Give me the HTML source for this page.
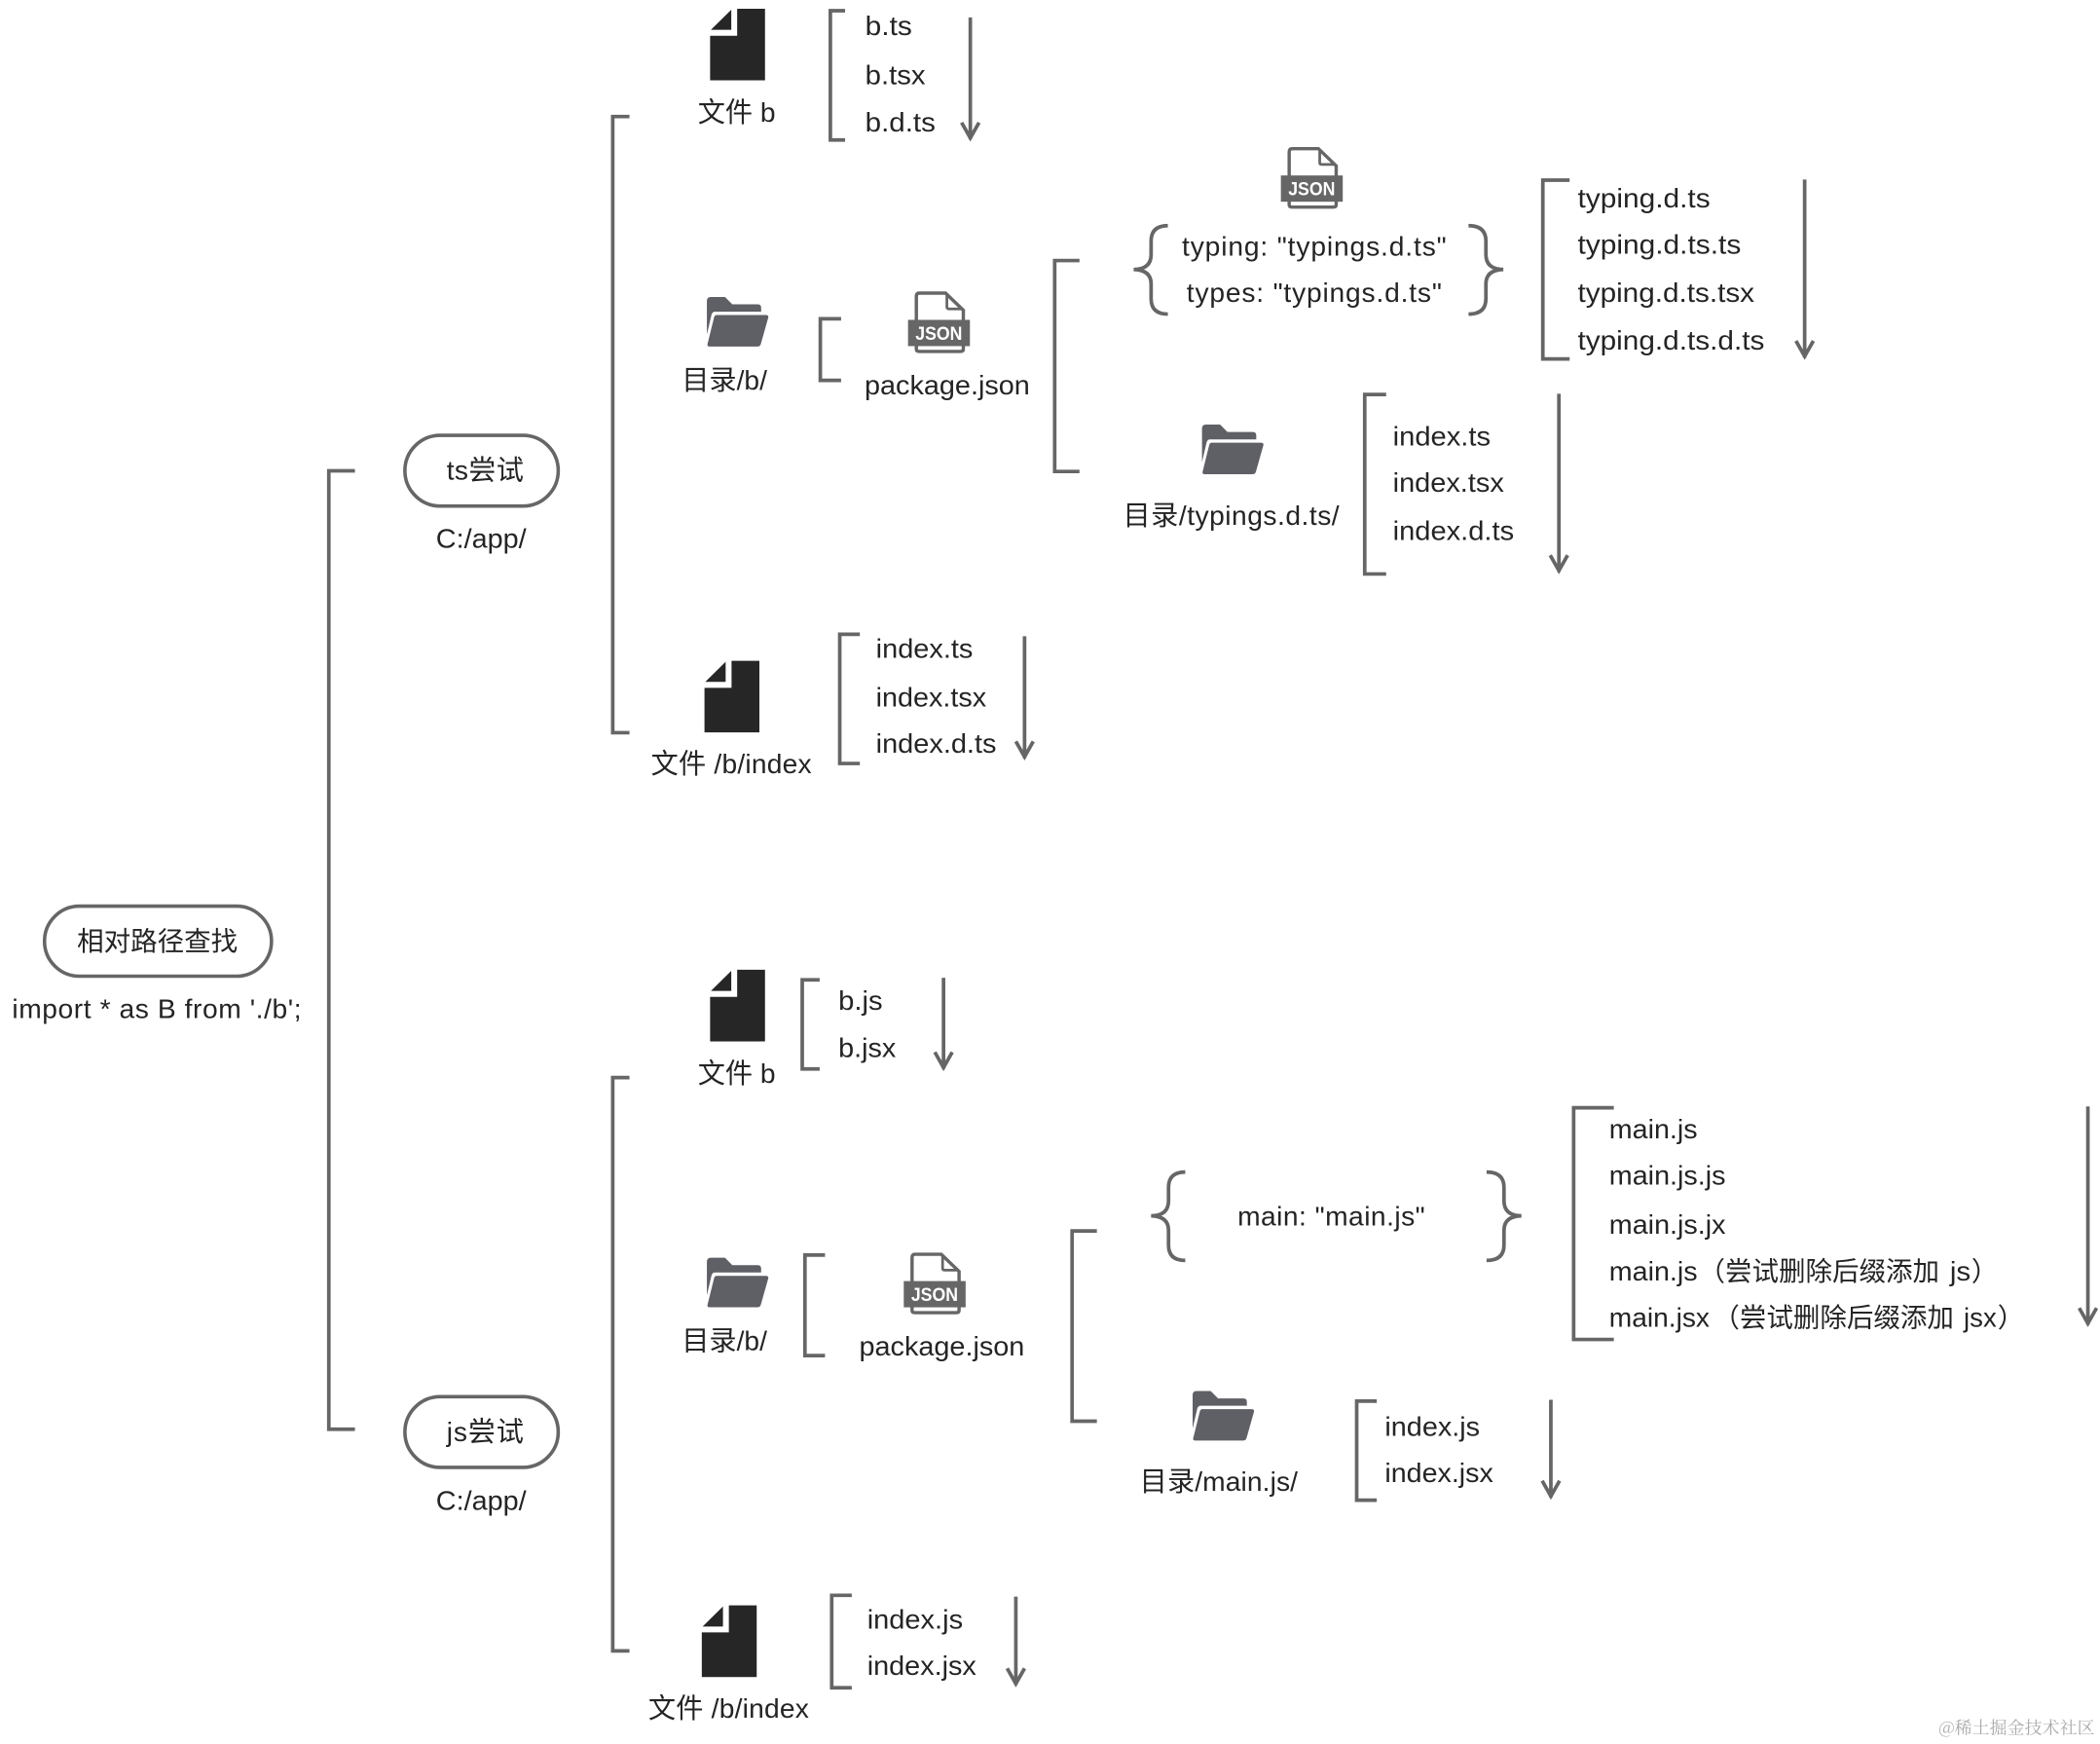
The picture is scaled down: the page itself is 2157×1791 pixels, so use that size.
<!DOCTYPE html>
<html lang="zh">
<head>
<meta charset="utf-8">
<title>相对路径查找</title>
<style>
html,body{margin:0;padding:0;background:#fff;}
svg{display:block;}
text{font-family:"Liberation Sans","Noto Sans CJK SC",sans-serif;font-size:20.5px;fill:#242424;}
.c{font-size:20px;}
.l{fill:none;stroke:#666;stroke-width:2.7;}
.a{fill:none;stroke:#666;stroke-width:2.7;}
.j{font-family:"Liberation Sans",sans-serif;font-size:14px;font-weight:bold;fill:#fff;}
.w{font-family:"Noto Serif CJK SC",serif;font-size:13px;fill:#aaa;}
</style>
</head>
<body>
<svg xmlns="http://www.w3.org/2000/svg" width="2157" height="1791" viewBox="0 0 1568 1302">
<defs>
<symbol id="file" width="42" height="54" viewBox="0 0 42 54" overflow="visible">
<path d="M20.2 0H41V53.5H0V20.2H20.2Z" fill="#262626"/>
<path d="M15.8 .8V15.8H.6Z" fill="#262626"/>
</symbol>
<symbol id="folder" width="46" height="38" viewBox="0 0 46 38" overflow="visible">
<path d="M0 3Q0 0 3 0H13.5L19 5.5H38Q40.5 5.5 40.5 8V11H6Q4.2 11 3.5 13L0 28Z" fill="#5f5f66"/>
<path d="M7.3 13.5H44Q46.3 13.5 45.8 15.5L40.3 35Q39.8 37 37.5 37H2Q0 37 .5 35L5.3 15.5Q5.7 13.5 7.3 13.5Z" fill="#5f5f66"/>
</symbol>
<symbol id="json" width="46" height="46" viewBox="0 0 46 46" overflow="visible">
<path d="M6.2 21.5V3.5Q6.2 1.2 8.5 1.2H28L41.3 14V21.5" fill="none" stroke="#666" stroke-width="2.5"/>
<path d="M6.2 40.5V43Q6.2 44.8 8.5 44.8H39Q41.3 44.8 41.3 43V40.5" fill="none" stroke="#666" stroke-width="2.5"/>
<path d="M29 3V11.5Q29 13 30.5 13H39.5" fill="none" stroke="#666" stroke-width="2"/>
<rect x="0" y="21.2" width="46.2" height="19.6" fill="#666"/>
</symbol>
</defs>
<rect width="1568" height="1302" fill="#fff"/>

<!-- pills -->
<rect x="33.2" y="676.5" width="169.5" height="52.3" rx="26.1" fill="#fff" stroke="#666" stroke-width="2.6"/>
<rect x="302.3" y="325" width="114.5" height="52.8" rx="26.4" fill="#fff" stroke="#666" stroke-width="2.6"/>
<rect x="302.3" y="1042.7" width="114.5" height="52.8" rx="26.4" fill="#fff" stroke="#666" stroke-width="2.6"/>

<!-- brackets -->
<path class="l" d="M265 351.5H245.5V1067H265"/>
<path class="l" d="M470 87H457.5V547H470"/>
<path class="l" d="M631 8H620V104.5H631"/>
<path class="l" d="M628 238H612.5V284H628"/>
<path class="l" d="M806 194.5H787.5V352H806"/>
<path class="l" d="M1172 134.5H1152V268H1172"/>
<path class="l" d="M1035 294.5H1019V428.5H1035"/>
<path class="l" d="M642 473.5H627V570H642"/>
<path class="l" d="M612 731.5H599V798H612"/>
<path class="l" d="M470 804.5H457.5V1232.5H470"/>
<path class="l" d="M616 937H601V1012H616"/>
<path class="l" d="M819 919H800.5V1061H819"/>
<path class="l" d="M1205 827H1175V1000H1205"/>
<path class="l" d="M1028 1046H1013V1120H1028"/>
<path class="l" d="M636 1191H621V1260H636"/>

<!-- arrows -->
<path class="a" d="M724.5 13V104M718 91.5L724.5 103L731 91.5"/>
<path class="a" d="M1347.5 134V267M1341 254.5L1347.5 266L1354 254.5"/>
<path class="a" d="M1164 294V427M1157.5 414.5L1164 426L1170.5 414.5"/>
<path class="a" d="M765 475V566M758.5 553.5L765 565L771.5 553.5"/>
<path class="a" d="M704.5 730V798M698 785.5L704.5 797L711 785.5"/>
<path class="a" d="M1559 826V989M1552.5 976.5L1559 988L1565.5 976.5"/>
<path class="a" d="M1158 1045V1118M1151.5 1105.5L1158 1117L1164.5 1105.5"/>
<path class="a" d="M758.5 1192V1258M752 1245.5L758.5 1257L765 1245.5"/>

<!-- braces -->
<path class="l" d="M872 168.5Q859.5 168.5 859.5 180V190Q859.5 201 846.5 201.2Q859.5 201.5 859.5 212V223Q859.5 234.5 872 234.5"/>
<path class="l" d="M1096.5 168.5Q1109.5 168.5 1109.5 180V190Q1109.5 201 1122.5 201.2Q1109.5 201.5 1109.5 212V223Q1109.5 234.5 1096.5 234.5"/>
<path class="l" d="M885 875Q872.5 875 872.5 886.5V896.5Q872.5 907.5 859.5 907.7Q872.5 908 872.5 918.5V929.5Q872.5 941 885 941"/>
<path class="l" d="M1110 875Q1123 875 1123 886.5V896.5Q1123 907.5 1136 907.7Q1123 908 1123 918.5V929.5Q1123 941 1110 941"/>

<!-- file icons -->
<use href="#file" x="530.2" y="6.5" width="42" height="54"/>
<use href="#file" x="526" y="493.3" width="42" height="54"/>
<use href="#file" x="530.2" y="724" width="42" height="54"/>
<use href="#file" x="524" y="1198.5" width="42" height="54"/>

<!-- folder icons -->
<use href="#folder" x="527.8" y="221.7" width="46" height="38"/>
<use href="#folder" x="897.5" y="317" width="46" height="38"/>
<use href="#folder" x="527.8" y="939" width="46" height="38"/>
<use href="#folder" x="890.5" y="1038.5" width="46" height="38"/>

<!-- json icons -->
<use href="#json" x="678" y="217.6" width="46" height="46"/>
<text class="j" x="701" y="253.6" text-anchor="middle" textLength="35" lengthAdjust="spacingAndGlyphs">JSON</text>
<use href="#json" x="956.4" y="109.8" width="46" height="46"/>
<text class="j" x="979.4" y="145.8" text-anchor="middle" textLength="35" lengthAdjust="spacingAndGlyphs">JSON</text>
<use href="#json" x="674.8" y="935.2" width="46" height="46"/>
<text class="j" x="697.8" y="971.2" text-anchor="middle" textLength="35" lengthAdjust="spacingAndGlyphs">JSON</text>

<!-- labels -->
<text x="57.5" y="709.7" style="font-size:20px">相对路径查找</text>
<text x="9" y="760" textLength="216" lengthAdjust="spacing">import * as B from './b';</text>
<text x="333.5" y="358" textLength="57.5" lengthAdjust="spacing">ts尝试</text>
<text x="325.5" y="409" textLength="67.5" lengthAdjust="spacingAndGlyphs">C:/app/</text>
<text x="333.5" y="1076" textLength="57.5" lengthAdjust="spacing">js尝试</text>
<text x="325.5" y="1127" textLength="67.5" lengthAdjust="spacingAndGlyphs">C:/app/</text>

<text x="521" y="91">文件 b</text>
<text x="646" y="26.2" textLength="35" lengthAdjust="spacingAndGlyphs">b.ts</text>
<text x="646" y="63" textLength="45" lengthAdjust="spacingAndGlyphs">b.tsx</text>
<text x="646" y="98" textLength="52.5" lengthAdjust="spacingAndGlyphs">b.d.ts</text>
<text x="509" y="290.8">目录/b/</text>
<text x="645.5" y="294.5" textLength="123.5" lengthAdjust="spacingAndGlyphs">package.json</text>
<text x="882.5" y="191" textLength="197.5" lengthAdjust="spacing">typing: "typings.d.ts"</text>
<text x="886" y="225.5" textLength="190.5" lengthAdjust="spacing">types: "typings.d.ts"</text>
<text x="1178" y="155" textLength="99" lengthAdjust="spacingAndGlyphs">typing.d.ts</text>
<text x="1178" y="189.5" textLength="122" lengthAdjust="spacingAndGlyphs">typing.d.ts.ts</text>
<text x="1178" y="225.5" textLength="132" lengthAdjust="spacingAndGlyphs">typing.d.ts.tsx</text>
<text x="1178" y="261" textLength="139.5" lengthAdjust="spacingAndGlyphs">typing.d.ts.d.ts</text>
<text x="838.5" y="392" textLength="161.5" lengthAdjust="spacing">目录/typings.d.ts/</text>
<text x="1040" y="332.5" textLength="73" lengthAdjust="spacingAndGlyphs">index.ts</text>
<text x="1040" y="367" textLength="83" lengthAdjust="spacingAndGlyphs">index.tsx</text>
<text x="1040" y="403" textLength="90.5" lengthAdjust="spacingAndGlyphs">index.d.ts</text>
<text x="486" y="577.3" textLength="120" lengthAdjust="spacing">文件 /b/index</text>
<text x="654" y="491" textLength="72.5" lengthAdjust="spacingAndGlyphs">index.ts</text>
<text x="654" y="527.5" textLength="82.5" lengthAdjust="spacingAndGlyphs">index.tsx</text>
<text x="654" y="562" textLength="90" lengthAdjust="spacingAndGlyphs">index.d.ts</text>

<text x="521" y="808.3">文件 b</text>
<text x="626" y="754" textLength="33" lengthAdjust="spacingAndGlyphs">b.js</text>
<text x="626" y="789" textLength="43" lengthAdjust="spacingAndGlyphs">b.jsx</text>
<text x="509" y="1008">目录/b/</text>
<text x="641.5" y="1012" textLength="123.5" lengthAdjust="spacingAndGlyphs">package.json</text>
<text x="924" y="915" textLength="140" lengthAdjust="spacing">main: "main.js"</text>
<text x="1201.5" y="850" textLength="66" lengthAdjust="spacingAndGlyphs">main.js</text>
<text x="1201.5" y="884.5" textLength="87" lengthAdjust="spacingAndGlyphs">main.js.js</text>
<text x="1201.5" y="921" textLength="87" lengthAdjust="spacingAndGlyphs">main.js.jx</text>

<text x="1201.5" y="956" textLength="66" lengthAdjust="spacingAndGlyphs">main.js</text>
<text class="c" x="1268.2" y="956">（尝试删除后缀添加</text>
<text x="1456" y="956" textLength="15.5" lengthAdjust="spacingAndGlyphs">js</text>
<text class="c" x="1472" y="956">）</text>

<text x="1201.5" y="990.5" textLength="75" lengthAdjust="spacingAndGlyphs">main.jsx</text>
<text class="c" x="1279" y="990.5">（尝试删除后缀添加</text>
<text x="1466.3" y="990.5" textLength="24.5" lengthAdjust="spacingAndGlyphs">jsx</text>
<text class="c" x="1491.5" y="990.5">）</text>

<text x="851" y="1113" textLength="118" lengthAdjust="spacing">目录/main.js/</text>
<text x="1034" y="1072" textLength="71" lengthAdjust="spacingAndGlyphs">index.js</text>
<text x="1034" y="1106.5" textLength="81" lengthAdjust="spacingAndGlyphs">index.jsx</text>
<text x="484" y="1282.3" textLength="120" lengthAdjust="spacing">文件 /b/index</text>
<text x="647.5" y="1216" textLength="71.5" lengthAdjust="spacingAndGlyphs">index.js</text>
<text x="647.5" y="1250.3" textLength="81.5" lengthAdjust="spacingAndGlyphs">index.jsx</text>

<text class="w" x="1447.5" y="1294.5" textLength="116.5" lengthAdjust="spacing">@稀土掘金技术社区</text>
</svg>
</body>
</html>
